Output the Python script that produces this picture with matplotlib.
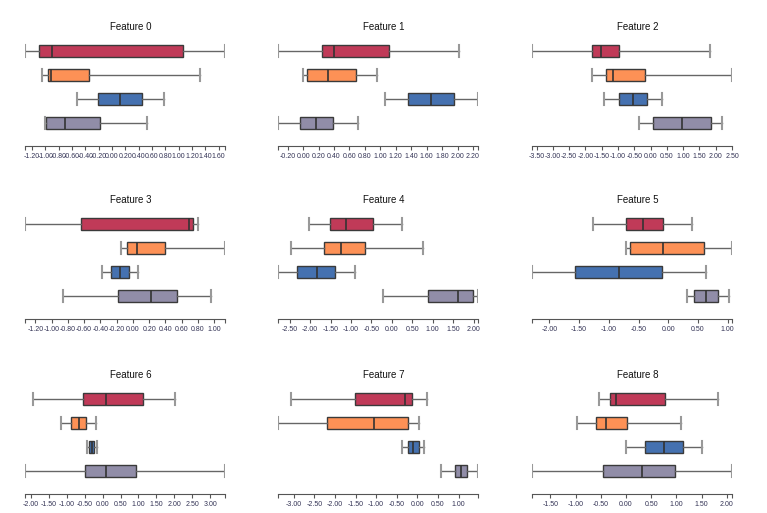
import numpy as np
import matplotlib
matplotlib.use("Agg")
import matplotlib.pyplot as plt

plt.rcParams['font.family'] = ['Liberation Sans', 'DejaVu Sans']

features = ["Feature %d" % i for i in range(9)]
classes = ["c0", "c1", "c2", "c3"]
colors = ["#c03a58", "#fd9156", "#4571b0", "#918da8"]

# per feature: one value per class (red, orange, blue, grey)
lows = [
    [-1.305, -1.045, -0.525, -1.005],
    [-0.325, 0.002, 1.06, -0.325],
    [-3.64, -1.79, -1.432, -0.368],
    [-1.327, -0.143, -0.38, -0.856],
    [-2.026, -2.467, -2.786, -0.212],
    [-1.265, -0.704, -2.292, 0.311],
    [-1.926, -1.147, -0.442, -2.158],
    [-3.073, -3.381, -0.377, 0.563],
    [-0.529, -0.972, 0.006, -1.863],
]
q1s = [
    [-1.095, -0.955, -0.205, -0.995],
    [0.239, 0.049, 1.361, -0.041],
    [-1.811, -1.371, -0.982, 0.082],
    [-0.634, -0.069, -0.27, -0.18],
    [-1.503, -1.65, -2.312, 0.891],
    [-0.716, -0.643, -1.563, 0.44],
    [-0.544, -0.868, -0.377, -0.488],
    [-1.502, -2.198, -0.231, 0.903],
    [-0.318, -0.602, 0.382, -0.45],
]
medians = [
    [-0.905, -0.915, 0.125, -0.705],
    [0.402, 0.325, 1.662, 0.17],
    [-1.525, -1.146, -0.532, 0.973],
    [0.689, 0.054, -0.159, 0.222],
    [-1.111, -1.25, -1.838, 1.618],
    [-0.43, -0.088, -0.833, 0.63],
    [0.087, -0.646, -0.293, 0.106],
    [-0.304, -1.057, -0.101, 1.057],
    [-0.192, -0.404, 0.759, 0.316],
]
q3s = [
    [1.065, -0.345, 0.455, -0.18],
    [1.116, 0.682, 1.959, 0.389],
    [-0.962, -0.184, -0.102, 1.843],
    [0.739, 0.398, -0.048, 0.542],
    [-0.466, -0.654, -1.381, 1.993],
    [-0.082, 0.597, -0.099, 0.832],
    [1.126, -0.451, -0.228, 0.941],
    [-0.142, -0.231, 0.028, 1.202],
    [0.772, 0.019, 1.135, 0.977],
]
highs = [
    [1.695, 1.315, 0.775, 0.53],
    [2.019, 0.957, 2.265, 0.716],
    [1.833, 2.50, 0.359, 2.201],
    [0.804, 1.132, 0.058, 0.96],
    [0.245, 0.752, -0.899, 2.108],
    [0.395, 1.073, 0.63, 1.029],
    [2.007, -0.182, -0.145, 3.408],
    [0.231, 0.028, 0.166, 1.47],
    [1.829, 1.089, 1.505, 2.1],
]
tick_steps = [0.2, 0.2, 0.5, 0.2, 0.5, 0.5, 0.5, 0.5, 0.5]

W, H = 767, 513
fig = plt.figure(figsize=(W / 100, H / 100), dpi=100)

col_left = [25, 278, 532]
row_bottom = [146, 319, 494]
ax_w, ax_h = 200, 107

for i in range(9):
    r, c = divmod(i, 3)
    ax = fig.add_axes([col_left[c] / W, 1 - row_bottom[r] / H, ax_w / W, ax_h / H])

    stats = []
    for k in range(4):
        stats.append({
            "whislo": lows[i][k], "q1": q1s[i][k], "med": medians[i][k],
            "q3": q3s[i][k], "whishi": highs[i][k], "fliers": [],
        })
    pos = [4, 3, 2, 1]
    b = ax.bxp(stats, positions=pos, widths=0.54, capwidths=0.54,
               orientation="horizontal", patch_artist=True, showfliers=False,
               boxprops=dict(edgecolor="#3a3a3a", linewidth=1.0),
               medianprops=dict(color="#333333", linewidth=1.2),
               whiskerprops=dict(color="#666666", linewidth=1.0),
               capprops=dict(color="#999999", linewidth=1.5))
    for patch, col in zip(b["boxes"], colors):
        patch.set_facecolor(col)

    lo = min(lows[i])
    hi = max(highs[i])
    ax.set_xlim(lo, hi)
    ax.set_ylim(0.042, 4.5)

    step = tick_steps[i]
    ticks = np.arange(np.ceil(lo / step - 1e-9), np.floor(hi / step + 1e-9) + 1) * step
    ticks = [round(t, 6) + 0.0 for t in ticks]
    ax.set_xticks(ticks)
    ax.set_xticklabels(["%.2f" % t for t in ticks])
    ax.set_xticks([lo, hi], minor=True)
    ax.tick_params(axis="x", which="both", length=3, width=0.8, color="#555555",
                   labelsize=5.0, labelcolor="#333355", pad=2)
    ax.set_yticks([])
    for s in ["left", "right", "top"]:
        ax.spines[s].set_visible(False)
    ax.spines["bottom"].set_color("#555555")
    ax.spines["bottom"].set_linewidth(0.8)
    ax.text(0.53, 1.0 + 12 / ax_h, features[i], transform=ax.transAxes,
            ha="center", va="center", fontsize=7, color="#111111")

fig.savefig("out.png", dpi=100)
